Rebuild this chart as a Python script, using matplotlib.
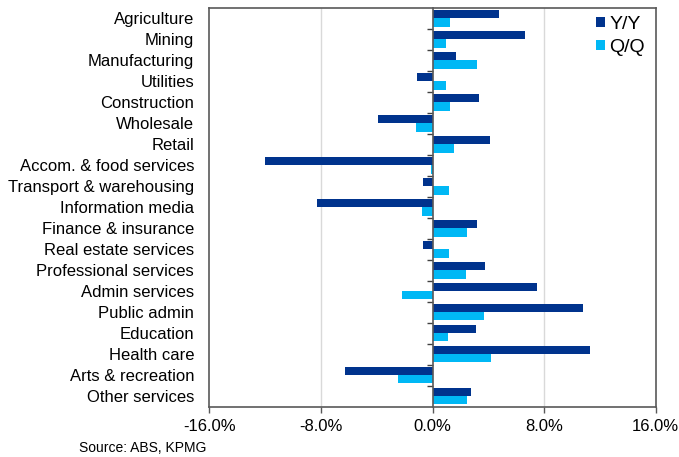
import numpy as np
import matplotlib
matplotlib.use("Agg")
import matplotlib.pyplot as plt

plt.rcParams['font.family'] = ['Liberation Sans', 'DejaVu Sans']

industries = [
    "Agriculture", "Mining", "Manufacturing", "Utilities", "Construction",
    "Wholesale", "Retail", "Accom. & food services", "Transport & warehousing",
    "Information media", "Finance & insurance", "Real estate services",
    "Professional services", "Admin services", "Public admin", "Education",
    "Health care", "Arts & recreation", "Other services",
]
yy_growth = [4.76, 6.62, 1.67, -1.14, 3.31, -3.95, 4.10, -12.0, -0.69, -8.26,
             3.19, -0.69, 3.79, 7.50, 10.79, 3.10, 11.26, -6.31, 2.76]
qq_growth = [1.24, 0.95, 3.19, 0.95, 1.24, -1.19, 1.50, -0.14, 1.19, -0.79,
             2.48, 1.20, 2.43, -2.19, 3.69, 1.10, 4.17, -2.50, 2.48]
x_ticks = [-16, -8, 0, 8, 16]

DARK = "#00338D"
LIGHT = "#00B8F5"
FRAME = "#595959"

fig = plt.figure(figsize=(6.79, 4.57), dpi=100)
ax = fig.add_axes([0.3085, 0.110, 0.6572, 0.8725])

y = np.arange(len(industries))
h = 0.39
ax.barh(y - h / 2, yy_growth, height=h, color=DARK, label="Y/Y", zorder=3)
ax.barh(y + h / 2, qq_growth, height=h, color=LIGHT, label="Q/Q", zorder=3)

ax.set_ylim(len(industries) - 0.5, -0.5)
ax.set_xlim(-16, 16)
ax.set_xticks(x_ticks)
ax.set_xticklabels([f"{v:.1f}%" for v in x_ticks], fontsize=12)
ax.set_yticks(y)
ax.set_yticklabels(industries, fontsize=12)
ax.tick_params(axis="y", length=0, pad=11)
ax.tick_params(axis="x", direction="out", length=4, width=1, color=FRAME, pad=5)

for v in x_ticks[1:-1]:
    if v != 0:
        ax.axvline(v, color="#d9d9d9", lw=1, zorder=1)

for s in ax.spines.values():
    s.set_color(FRAME)
    s.set_linewidth(1.2)

# Category axis drawn along zero, with ticks between categories
ax2 = ax.twinx()
ax2.set_ylim(ax.get_ylim())
ax2.spines['left'].set_position(('data', 0))
for side in ("right", "top", "bottom"):
    ax2.spines[side].set_visible(False)
ax2.spines['left'].set_color(FRAME)
ax2.spines['left'].set_linewidth(1.2)
ax2.spines['left'].set_zorder(4)
ax2.yaxis.set_ticks_position('left')
ax2.set_yticks(np.arange(len(industries) - 1) + 0.5)
ax2.set_yticklabels([])
ax2.tick_params(axis="y", direction="out", length=4, width=1, color="#404040")

leg = ax.legend(loc="upper right", frameon=False, fontsize=14,
                handlelength=0.5, handleheight=0.42, handletextpad=0.22,
                labelspacing=0.3, borderaxespad=0.0, borderpad=0.2,
                bbox_to_anchor=(0.985, 0.99))

fig.text(0.117, 0.004, "Source: ABS, KPMG", fontsize=10, ha="left", va="bottom")

fig.savefig("out.png", dpi=100)
